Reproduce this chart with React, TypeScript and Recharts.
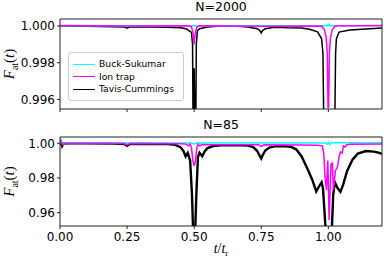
import { LineChart, Line, XAxis, YAxis, Legend, Label } from 'recharts'

// N=2000 panel
const tcTopT = [0, 0.05, 0.1, 0.15, 0.2, 0.24, 0.25, 0.26, 0.3, 0.35, 0.4, 0.45, 0.47, 0.48, 0.49, 0.494, 0.496, 0.5, 0.503, 0.506, 0.508, 0.512, 0.52, 0.55, 0.6, 0.65, 0.7, 0.735, 0.745, 0.75, 0.755, 0.765, 0.8, 0.85, 0.9, 0.93, 0.96, 0.975, 0.98, 0.983, 1.024, 1.027, 1.03, 1.04, 1.08, 1.14, 1.2]
const tcTopF = [1.0, 0.99999, 0.99998, 0.99997, 0.99996, 0.99995, 0.99988, 0.99995, 0.99996, 0.99995, 0.99993, 0.9999, 0.99985, 0.99975, 0.99965, 0.999, 0.9945, 0.9977, 0.9945, 0.9945, 0.999, 0.99975, 0.99985, 0.99995, 1.0, 1.0, 0.99995, 0.99985, 0.99975, 0.99962, 0.99975, 0.99985, 0.99993, 0.9999, 0.99989, 0.99982, 0.99968, 0.9993, 0.9985, 0.9945, 0.9945, 0.9985, 0.9993, 0.99967, 0.99978, 0.99984, 0.99989]
const ionTopT = [0, 0.25, 0.48, 0.49, 0.496, 0.5, 0.504, 0.51, 0.52, 0.75, 0.975, 0.985, 0.992, 0.996, 0.999, 1.001, 1.004, 1.008, 1.015, 1.025, 1.2]
const ionTopF = [1.00002, 1.0, 1.00001, 0.99995, 0.9996, 0.999, 0.9996, 0.99995, 1.00001, 0.99999, 1.0, 0.9998, 0.9994, 0.9985, 0.99558, 0.99558, 0.9985, 0.9994, 0.9998, 1.0, 1.00002]
const bsTopT = [0, 0.5, 0.995, 1.0, 1.005, 1.2]
const bsTopF = [1.00001, 1.00001, 1.00001, 1.0001, 1.00001, 1.00001]

// N=85 panel
const tcBotT = [0, 0.004, 0.008, 0.012, 0.03, 0.1, 0.2, 0.24, 0.25, 0.26, 0.3, 0.4, 0.43, 0.45, 0.46, 0.468, 0.476, 0.485, 0.492, 0.496, 0.504, 0.508, 0.514, 0.52, 0.53, 0.54, 0.55, 0.57, 0.6, 0.65, 0.7, 0.72, 0.735, 0.745, 0.75, 0.755, 0.765, 0.78, 0.8, 0.84, 0.86, 0.88, 0.9, 0.92, 0.94, 0.955, 0.963, 0.975, 0.98, 0.986, 0.99, 1.013, 1.018, 1.024, 1.035, 1.045, 1.055, 1.07, 1.09, 1.11, 1.14, 1.17, 1.19, 1.2]
const tcBotF = [0.999, 1.0006, 0.9985, 0.9998, 0.9999, 0.9999, 0.9998, 0.9996, 0.9985, 0.9996, 0.9997, 0.9996, 0.9991, 0.9976, 0.9955, 0.9925, 0.9945, 0.99, 0.97, 0.95, 0.95, 0.97, 0.992, 0.9945, 0.9925, 0.9955, 0.9972, 0.9984, 0.9988, 0.9989, 0.9987, 0.9978, 0.9955, 0.9925, 0.9912, 0.993, 0.9958, 0.9975, 0.9982, 0.9983, 0.998, 0.9965, 0.9925, 0.986, 0.979, 0.9722, 0.9745, 0.9775, 0.974, 0.96, 0.95, 0.95, 0.97, 0.9775, 0.974, 0.972, 0.976, 0.984, 0.9905, 0.994, 0.9955, 0.9952, 0.9944, 0.9938]
const ionBotT = [0, 0.005, 0.01, 0.02, 0.24, 0.25, 0.26, 0.45, 0.47, 0.48, 0.485, 0.49, 0.495, 0.5, 0.505, 0.51, 0.515, 0.52, 0.53, 0.55, 0.74, 0.75, 0.76, 0.9, 0.96, 0.978, 0.983, 0.988, 0.993, 0.998, 1.003, 1.01, 1.015, 1.019, 1.026, 1.034, 1.04, 1.045, 1.052, 1.056, 1.062, 1.068, 1.08, 1.2]
const ionBotF = [0.9995, 1.0005, 0.9992, 0.9998, 0.9998, 0.999, 0.9998, 0.9997, 0.9995, 0.9985, 0.9995, 0.9975, 0.99, 0.987, 0.99, 0.9975, 0.9995, 0.9985, 0.9993, 0.9992, 0.9991, 0.9982, 0.9991, 0.999, 0.9988, 0.9985, 0.994, 0.98, 0.973, 0.99, 0.9558, 0.988, 0.9886, 0.973, 0.984, 0.9863, 0.992, 0.995, 0.9944, 0.9985, 0.9978, 0.999, 0.9994, 0.9996]
const bsBotT = [0, 0.005, 0.01, 0.02, 0.25, 0.49, 0.5, 0.51, 0.75, 0.99, 0.995, 1.0, 1.005, 1.012, 1.2]
const bsBotF = [1.0, 1.001, 0.9995, 1.0002, 1.0001, 1.0002, 0.9995, 1.0002, 1.0001, 1.0002, 0.9995, 1.0006, 0.9994, 1.0003, 1.0003]

const xTicks = [0, 0.25, 0.5, 0.75, 1.0]
const topYTicks = [0.996, 0.997, 0.998, 0.999, 1.0]
const botYTicks = [0.96, 0.97, 0.98, 0.99, 1.0]
const legendOrder = ['Buck-Sukumar', 'Ion trap', 'Tavis-Cummings']

const zip = (t: number[], f: number[]) => t.map((x, i) => ({ t: x, f: f[i] }))

const FRAME = '#222'
const tickStyle = { fontSize: 12, fill: '#000', fontFamily: 'DejaVu Sans' }

function Title({ text }: { text: string }) {
  return ({ viewBox }: any) => (
    <text x={viewBox.x + viewBox.width / 2} y={viewBox.y - 7} textAnchor="middle"
      fontSize={12.5} fontFamily="DejaVu Sans" fill="#000">{text}</text>
  )
}

function yLabel({ viewBox }: any) {
  const cx = 14
  const cy = viewBox.y + viewBox.height / 2
  return (
    <text x={cx} y={cy} transform={`rotate(-90, ${cx}, ${cy})`} textAnchor="middle"
      fontFamily="Liberation Serif" fontSize={15} fill="#000">
      <tspan fontStyle="italic">F</tspan>
      <tspan dy={4} fontSize={10}>at</tspan>
      <tspan dy={-4}>(</tspan>
      <tspan fontStyle="italic">t</tspan>
      <tspan>)</tspan>
    </text>
  )
}

function xLabel({ viewBox }: any) {
  return (
    <text x={viewBox.x + viewBox.width / 2} y={viewBox.y + 27} textAnchor="middle"
      fontFamily="Liberation Serif" fontSize={14} fill="#000">
      <tspan fontStyle="italic">t</tspan>
      <tspan>/</tspan>
      <tspan fontStyle="italic">t</tspan>
      <tspan dy={3} fontSize={9}>r</tspan>
    </text>
  )
}

function FitLegend({ payload }: any) {
  const items = legendOrder.map(n => (payload || []).find((p: any) => p.value === n)).filter(Boolean)
  return (
    <div style={{
      border: '1px solid #ccc', borderRadius: 3, background: 'rgba(255,255,255,0.8)',
      padding: '5px 4px 4px 4px', fontFamily: 'DejaVu Sans', fontSize: 9.2, lineHeight: '12.5px', width: 106,
    }}>
      {items.map((p: any) => (
        <div key={p.value} style={{ display: 'flex', alignItems: 'center' }}>
          <span style={{ display: 'inline-block', width: 22, height: 0, borderTop: `1.5px solid ${p.color}`, marginRight: 4 }} />
          <span>{p.value}</span>
        </div>
      ))}
    </div>
  )
}

function Panel({ title, height, marginTop, xHeight, yDomain, yTicks, yDigits, showX, tc, ion, bs, tcWidth, legend }: any) {
  return (
    <LineChart width={390} height={height} margin={{ top: marginTop, right: 7, left: 0, bottom: 0 }}>
      <XAxis dataKey="t" type="number" domain={[0, 1.2]} ticks={xTicks} allowDataOverflow
        stroke={FRAME} tickSize={3} tickMargin={3} height={xHeight} tick={tickStyle}
        tickFormatter={(v: number) => (showX ? v.toFixed(2) : '')}>
        {showX && <Label content={xLabel} />}
      </XAxis>
      <XAxis xAxisId="top" orientation="top" type="number" domain={[0, 1.2]} height={1}
        stroke={FRAME} tick={false} tickLine={false}>
        <Label content={Title({ text: title })} />
      </XAxis>
      <YAxis dataKey="f" type="number" domain={yDomain} ticks={yTicks} allowDataOverflow width={60}
        stroke={FRAME} tickSize={3} tickMargin={2} tick={tickStyle}
        tickFormatter={(v: number) => v.toFixed(yDigits)}>
        <Label content={yLabel} />
      </YAxis>
      <YAxis yAxisId="r" orientation="right" type="number" domain={[0, 1]} width={1}
        stroke={FRAME} tick={false} tickLine={false} />
      <Line data={tc} dataKey="f" name="Tavis-Cummings" stroke="#000" strokeWidth={tcWidth}
        dot={false} isAnimationActive={false} />
      <Line data={bs} dataKey="f" name="Buck-Sukumar" stroke="#00ffff" strokeWidth={1.5}
        dot={false} isAnimationActive={false} />
      <Line data={ion} dataKey="f" name="Ion trap" stroke="#ff00ff" strokeWidth={1.5}
        dot={false} isAnimationActive={false} />
      {legend && (
        <Legend content={FitLegend} layout="vertical" align="center" verticalAlign="middle"
          wrapperStyle={{ left: 68, top: 52, width: 'auto' }} />
      )}
    </LineChart>
  )
}

export default function App() {
  return (
    <div style={{ position: 'absolute', left: 0, top: 0, width: 390, height: 260, background: '#fff' }}>
      <div style={{ position: 'absolute', left: 0, top: 0 }}>
        <Panel title="N=2000" height={125} marginTop={18} xHeight={16}
          yDomain={[0.99548, 1.00038]} yTicks={topYTicks} yDigits={3} showX={false}
          tc={zip(tcTopT, tcTopF)} ion={zip(ionTopT, ionTopF)} bs={zip(bsTopT, bsTopF)}
          tcWidth={1.5} legend />
      </div>
      <div style={{ position: 'absolute', left: 0, top: 118 }}>
        <Panel title="N=85" height={142} marginTop={18} xHeight={34}
          yDomain={[0.9523, 1.0036]} yTicks={botYTicks} yDigits={2} showX
          tc={zip(tcBotT, tcBotF)} ion={zip(ionBotT, ionBotF)} bs={zip(bsBotT, bsBotF)}
          tcWidth={2.4} legend={false} />
      </div>
    </div>
  )
}
